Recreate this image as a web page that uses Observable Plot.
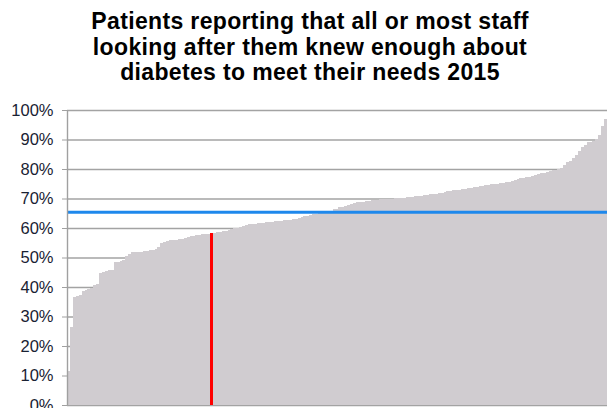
<!DOCTYPE html>
<html>
<head>
<meta charset="utf-8">
<script src="https://cdn.jsdelivr.net/npm/d3@7"></script>
<script src="https://cdn.jsdelivr.net/npm/@observablehq/plot@0.6"></script>
<style>
  html, body { margin: 0; padding: 0; background: #fff; overflow: hidden; width: 608px; height: 408px; }
  #title { position: absolute; left: 0; top: 9px; width: 620px; text-align: center;
    font-family: "Liberation Sans", Arial, sans-serif; font-weight: bold; font-size: 23px;
    letter-spacing: 0.35px; line-height: 25.5px; color: #000; }
  #chart { position: absolute; left: 0; top: 95px; }
</style>
</head>
<body>
<div id="title">Patients reporting that all or most staff<br>looking after them knew enough about<br>diabetes to meet their needs 2015</div>
<div id="chart"></div>
<script>
// Share of patients (%) per hospital site, sorted ascending
const values = [
  11.5, 26.5, 36.6, 36.9, 37.2, 38.6, 39.0, 39.3, 39.6, 40.8,
  41.0, 44.8, 45.0, 45.3, 45.6, 45.8, 48.5, 48.6, 48.8, 49.2,
  50.5, 51.3, 51.7, 51.8, 51.9, 52.0, 52.1, 52.3, 52.5, 52.7,
  53.0, 53.5, 54.8, 55.3, 55.6, 55.9, 56.0, 56.1, 56.2, 56.3,
  56.5, 56.9, 57.3, 57.4, 57.5, 57.6, 57.8, 57.9, 58.0, 58.2,
  58.3, 58.5, 58.7, 58.9, 59.1, 59.4, 59.6, 59.9, 60.1, 60.3,
  60.7, 61.0, 61.2, 61.4, 61.5, 61.6, 61.7, 61.8, 62.0, 62.1,
  62.2, 62.3, 62.4, 62.5, 62.6, 62.7, 62.8, 62.9, 63.1, 63.4,
  63.7, 63.9, 64.1, 64.3, 64.6, 64.9, 65.0, 65.1, 65.2, 65.4,
  65.6, 66.3, 66.5, 67.0, 67.2, 67.4, 67.7, 68.3, 68.6, 68.7,
  68.8, 68.9, 69.0, 69.2, 69.4, 69.5, 69.6, 69.7, 69.8, 69.9,
  70.0, 70.0, 70.1, 70.2, 70.3, 70.3, 70.4, 70.5, 70.6, 70.7,
  70.8, 70.9, 71.1, 71.2, 71.4, 71.5, 71.6, 71.8, 72.0, 72.2,
  72.4, 72.6, 72.8, 72.9, 73.0, 73.2, 73.3, 73.5, 73.7, 73.8,
  74.0, 74.1, 74.3, 74.5, 74.6, 74.8, 74.9, 75.0, 75.2, 75.3,
  75.5, 75.6, 75.9, 76.2, 76.5, 76.8, 77.0, 77.2, 77.4, 77.6,
  78.0, 78.3, 78.6, 78.8, 79.0, 79.3, 79.5, 79.7, 80.0, 80.2,
  81.5, 82.3, 82.8, 83.6, 84.6, 86.0, 87.3, 88.2, 89.0, 89.3,
  89.6, 90.2, 91.5, 94.5, 97.0
];
const highlightIndex = 49;       // the highlighted hospital (red bar)
const nationalAverage = 65.5;    // blue line
const yTicks = [0, 10, 20, 30, 40, 50, 60, 70, 80, 90, 100];

const data = values.map((v, i) => ({i, v}));
const highlighted = data.filter(d => d.i === highlightIndex);

const chart = Plot.plot({
  width: 608,
  height: 313,
  marginLeft: 67,
  marginRight: 1,
  marginTop: 15,
  marginBottom: 3,
  style: {background: "#fff", overflow: "visible", fontFamily: "'Liberation Sans', Arial, sans-serif"},
  x: {domain: [0, values.length], axis: null},
  y: {domain: [0, 100], axis: null},
  marks: [
    Plot.ruleY(yTicks, {stroke: "#a3a3a3", strokeWidth: 1.4}),
    Plot.rectY(data, {x1: "i", x2: d => d.i + 1, y: "v", fill: "#d0ccd0", shapeRendering: "crispEdges"}),
    Plot.rectY(highlighted, {x1: "i", x2: d => d.i + 1, y: "v", fill: "#ff0000", shapeRendering: "crispEdges"}),
    Plot.ruleY([nationalAverage], {stroke: "#1e88ec", strokeWidth: 3}),
    Plot.ruleX([0], {y1: 0, y2: 100, stroke: "#a0a0a0", strokeWidth: 1.4}),
    Plot.axisY(yTicks, {
      tickSize: 5, tickPadding: 9, stroke: "#a0a0a0", fill: "#1a2233",
      fontSize: 16.5, tickFormat: d => d + "%", label: null
    })
  ]
});
document.getElementById("chart").appendChild(chart);
</script>
</body>
</html>
